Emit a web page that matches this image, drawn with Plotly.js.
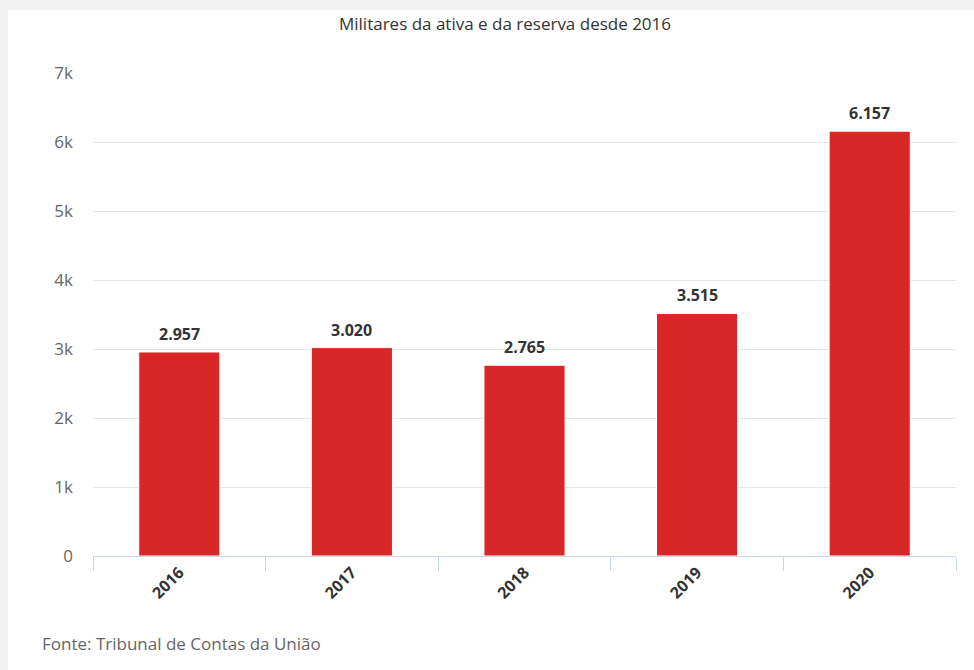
<!DOCTYPE html>
<html>
<head>
<meta charset="utf-8">
<script src="https://cdn.plot.ly/plotly-3.0.1.min.js"></script>
<style>
html,body{margin:0;padding:0;background:#f2f2f2;}
#panel{position:absolute;left:8px;top:10px;width:966px;height:660px;background:#ffffff;}
#chart{position:absolute;left:0;top:0;width:974px;height:670px;}
</style>
</head>
<body>
<div id="panel"></div>
<div id="chart"></div>
<script>
const categories = ["2016", "2017", "2018", "2019", "2020"];
const values = [2957, 3020, 2765, 3515, 6157];
const valueLabels = ["2.957", "3.020", "2.765", "3.515", "6.157"];
const yTickVals = [0, 1000, 2000, 3000, 4000, 5000, 6000, 7000];
const yTickText = ["0", "1k", "2k", "3k", "4k", "5k", "6k", "7k"];
const titleText = "Militares da ativa e da reserva desde 2016";
const sourceText = "Fonte: Tribunal de Contas da União";

const FONT = "'Open Sans', 'Noto Sans', sans-serif";

const trace = {
  type: "bar",
  x: categories,
  y: values,
  marker: {color: "#d92727", line: {color: "#ffffff", width: 1}},
  hoverinfo: "none"
};

// category axis: annotation x given as category index
const annotations = categories.map((c, i) => ({
  x: i, y: values[i], xref: "x", yref: "y",
  text: "<b>" + valueLabels[i] + "</b>",
  showarrow: false, yanchor: "bottom", yshift: 5,
  font: {family: FONT, size: 16, color: "#333333"}
}));
annotations.push({
  xref: "paper", yref: "paper",
  x: (40 - 93) / 863, y: (556 - 643) / 483,
  xanchor: "left", yanchor: "middle",
  text: sourceText, showarrow: false,
  font: {family: FONT, size: 17, color: "#666666"}
});

const layout = {
  width: 974, height: 670,
  margin: {l: 93, r: 18, t: 73, b: 114},
  paper_bgcolor: "rgba(0,0,0,0)",
  plot_bgcolor: "rgba(0,0,0,0)",
  font: {family: FONT},
  showlegend: false,
  bargap: 0.53,
  title: {
    text: titleText,
    font: {family: FONT, size: 17, color: "#333333"},
    xref: "container", yref: "container",
    x: 505 / 974, y: 1 - 24 / 670,
    xanchor: "center", yanchor: "middle"
  },
  xaxis: {
    type: "category",
    range: [-0.5, categories.length - 0.5],
    tickson: "boundaries",
    ticks: "outside", ticklen: 14, tickcolor: "#ccd6eb", tickwidth: 1,
    showline: true, linecolor: "#ccd6eb", linewidth: 1,
    showgrid: false,
    tickangle: -45,
    tickfont: {family: FONT, size: 16, color: "#333333", weight: "bold"}
  },
  yaxis: {
    range: [0, 7000],
    tickvals: yTickVals, ticktext: yTickText,
    showgrid: true, gridcolor: "#e6e6e6", gridwidth: 1,
    zeroline: false, showline: false,
    ticks: "", ticklabelstandoff: 19,
    tickfont: {family: FONT, size: 17, color: "#666666"}
  },
  annotations: annotations
};

Plotly.newPlot("chart", [trace], layout, {displayModeBar: false, staticPlot: true});
</script>
</body>
</html>
